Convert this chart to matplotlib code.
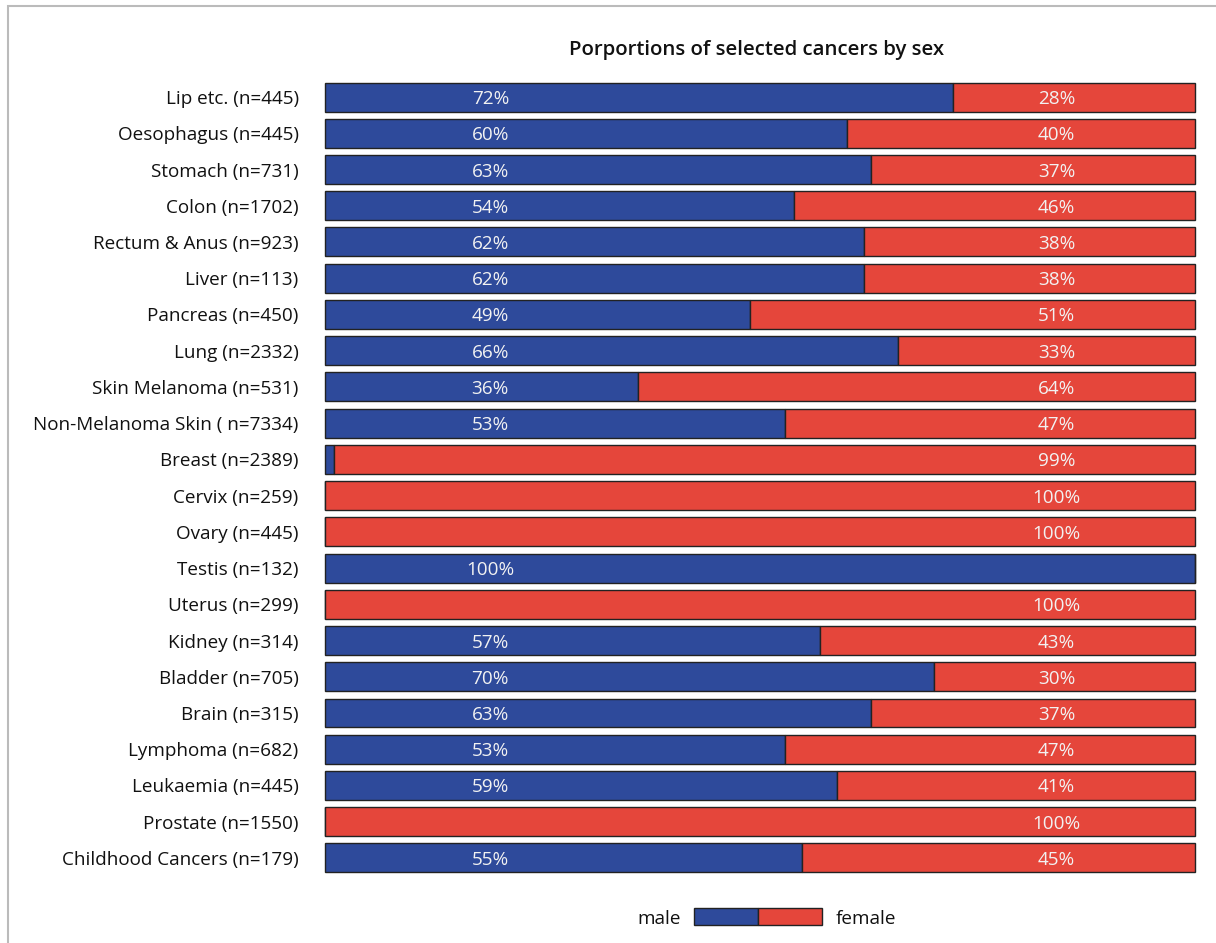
import matplotlib.pyplot as plt
from matplotlib.patches import Rectangle

plt.rcParams['font.family'] = ['Open Sans', 'DejaVu Sans']

cancers = ['Lip etc. (n=445)', 'Oesophagus (n=445)', 'Stomach (n=731)', 'Colon (n=1702)',
           'Rectum & Anus (n=923)', 'Liver (n=113)', 'Pancreas (n=450)', 'Lung (n=2332)',
           'Skin Melanoma (n=531)', 'Non-Melanoma Skin ( n=7334)', 'Breast (n=2389)',
           'Cervix (n=259)', 'Ovary (n=445)', 'Testis (n=132)', 'Uterus (n=299)',
           'Kidney (n=314)', 'Bladder (n=705)', 'Brain (n=315)', 'Lymphoma (n=682)',
           'Leukaemia (n=445)', 'Prostate (n=1550)', 'Childhood Cancers (n=179)']
male = [72.2, 60.0, 62.8, 53.9, 62.0, 62.0, 48.9, 65.9, 36.0, 52.9, 1.0,
        0, 0, 100, 0, 56.9, 70.0, 62.8, 52.9, 58.9, 0, 54.8]
female = [100 - m for m in male]
male_lbl = ['72%', '60%', '63%', '54%', '62%', '62%', '49%', '66%', '36%', '53%', '',
            '', '', '100%', '', '57%', '70%', '63%', '53%', '59%', '', '55%']
female_lbl = ['28%', '40%', '37%', '46%', '38%', '38%', '51%', '33%', '64%', '47%', '99%',
              '100%', '100%', '', '100%', '43%', '30%', '37%', '47%', '41%', '100%', '45%']

blue = '#2E4A9B'
red = '#E5463B'
fs = 13.6

fig = plt.figure(figsize=(12.16, 9.43), dpi=100)
ax = fig.add_axes([0.2673, 0.0710, 0.7154, 0.8453])

y = list(range(len(cancers)))
ax.barh(y, male, height=0.8, color=blue, edgecolor='#222222', linewidth=1, clip_on=False)
ax.barh(y, female, left=male, height=0.8, color=red, edgecolor='#222222', linewidth=1, clip_on=False)

for i in y:
    if male_lbl[i]:
        ax.text(19, i, male_lbl[i], color='#f2f2f2', ha='center', va='center_baseline', fontsize=fs)
    if female_lbl[i]:
        ax.text(84.1, i, female_lbl[i], color='#f2f2f2', ha='center', va='center_baseline', fontsize=fs)

ax.set_xlim(0, 100)
ax.set_ylim(len(cancers) - 0.5, -0.5)
ax.set_yticks(y)
ax.set_yticklabels(cancers, fontsize=fs, color='#111111')
ax.tick_params(axis='y', length=0, pad=19)
ax.set_xticks([])
for s in ax.spines.values():
    s.set_visible(False)

fig.text(0.6225, 0.947, 'Porportions of selected cancers by sex', ha='center', va='center',
         fontsize=14.7, fontweight='semibold', color='#111111')

# legend
fig.patches.append(Rectangle((694 / 1216, 1 - 925 / 943), 64 / 1216, 17 / 943,
                             transform=fig.transFigure, facecolor=blue, edgecolor='#222222', lw=1))
fig.patches.append(Rectangle((758 / 1216, 1 - 925 / 943), 64 / 1216, 17 / 943,
                             transform=fig.transFigure, facecolor=red, edgecolor='#222222', lw=1))
fig.text(681 / 1216, 1 - 917 / 943, 'male', ha='right', va='center_baseline', fontsize=fs, color='#111111')
fig.text(836 / 1216, 1 - 917 / 943, 'female', ha='left', va='center_baseline', fontsize=fs, color='#111111')

# outer frame
fig.patches.append(Rectangle((8 / 1216, -0.1), 1.2, 1.1 - 6 / 943,
                             transform=fig.transFigure, facecolor='none', edgecolor='#bbbbbb', lw=1.5))

fig.savefig('out.png', dpi=100)
